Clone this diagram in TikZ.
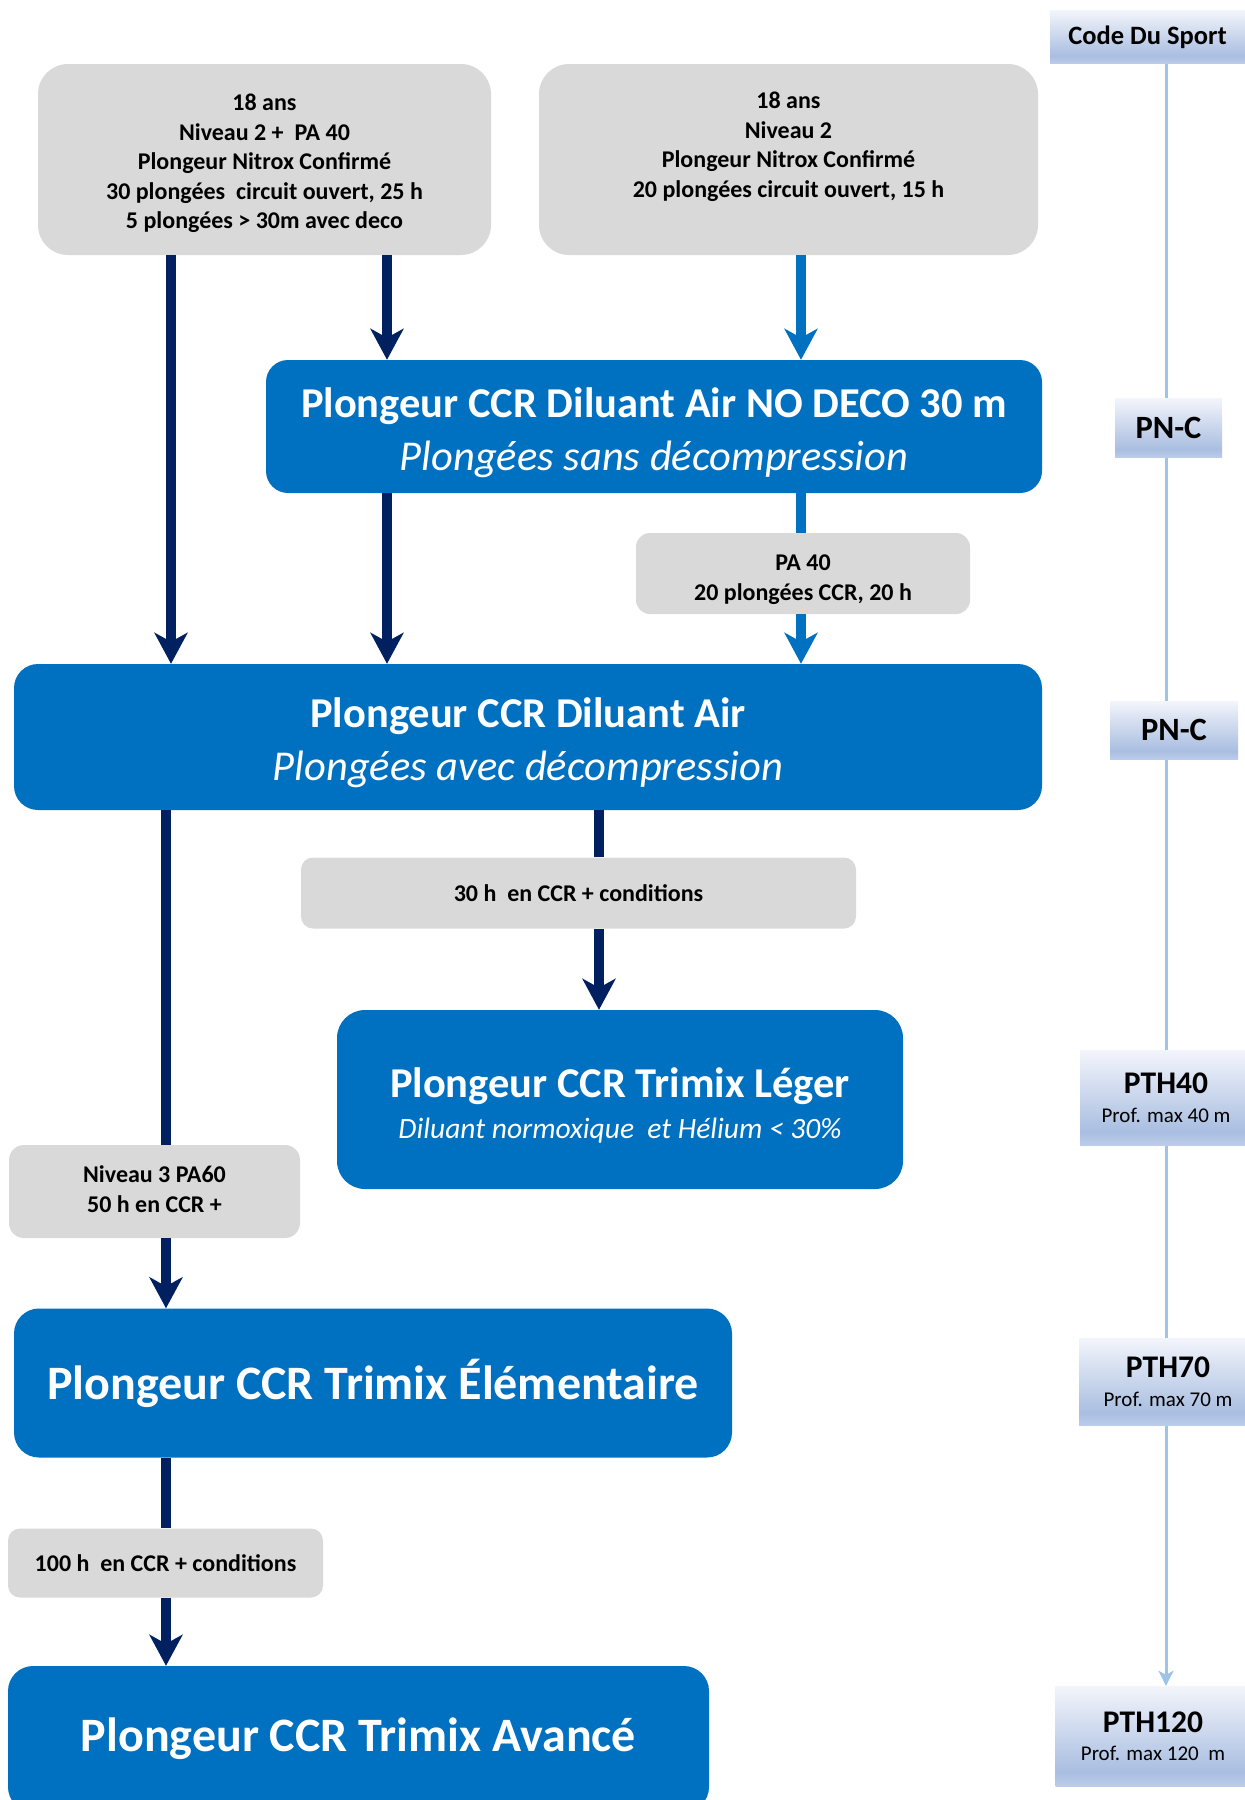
\documentclass[tikz,border=0pt]{standalone}
\usepackage{fontspec}
\setmainfont{Carlito}
\usetikzlibrary{arrows.meta}

\definecolor{ccrblue}{HTML}{0070C0}
\definecolor{navy}{HTML}{002060}
\definecolor{condgrey}{HTML}{D9D9D9}
\definecolor{spineblue}{HTML}{9DC3E6}
\definecolor{tabtop}{HTML}{F3F5FB}
\definecolor{tabmid}{HTML}{A9BEE1}
\definecolor{tabbot}{HTML}{BCCCEA}
\pgfdeclareverticalshading{tabshade}{100bp}{color(0bp)=(tabbot); color(25bp)=(tabbot); color(32bp)=(tabmid); color(75bp)=(tabtop); color(100bp)=(tabtop)}

\newcommand{\fs}[2]{\fontsize{#1}{#2}\selectfont}

\begin{document}
\begin{tikzpicture}[x=1pt,y=-1pt,
    cond/.style={fill=condgrey, rounded corners=#1, align=center, inner sep=0pt, font=\fs{24}{29.5}\bfseries},
    cond/.default=12pt,
    level/.style={fill=ccrblue, text=white, rounded corners=#1, align=center, inner sep=0pt},
    level/.default=24pt,
    lowtext/.style={inner sep=0pt, align=center, yshift=-#1},
    lowtext/.default=6pt,
    tab/.style={shading=tabshade, align=center, inner sep=0pt, font=\fs{31.5}{28.5}},
    navyline/.style={draw=navy, line width=10pt},
    navyarrow/.style={navyline, -{Stealth[length=31pt,width=33pt,inset=9pt]}},
    blueline/.style={draw=ccrblue, line width=10pt},
    bluearrow/.style={blueline, -{Stealth[length=31pt,width=33pt,inset=9pt]}},
    spine/.style={draw=spineblue, line width=3pt, -{Stealth[length=15pt,width=15pt,inset=4pt]}}]
\useasboundingbox (0,0) rectangle (1245,1800);

% columns of the connectors
\coordinate (colL) at (166,0);
\coordinate (colA) at (171,0);
\coordinate (colB) at (387,0);
\coordinate (colD) at (599,0);
\coordinate (colC) at (801,0);
\coordinate (colR) at (1166,0);

% code du sport scale
\node[tab, minimum width=195pt, minimum height=53pt, font=\fs{26.5}{30}\bfseries] (code) at (1147.5,37) {Code Du Sport};
\node[tab, minimum width=195pt, minimum height=100pt] (pth120) at (1153,1736)
  {\textbf{PTH120}\\{\fs{21}{25}Prof. max 120~ m}};
\draw[spine] (code.south -| colR) -- (pth120.north -| colR);
\node[tab, minimum width=107pt, minimum height=59pt, font=\fs{32.5}{36}\bfseries] (pnca) at (1168.5,428) {PN-C};
\node[tab, minimum width=128pt, minimum height=58pt, font=\fs{32.5}{36}\bfseries] (pncb) at (1174,730) {PN-C};
\node[tab, minimum width=172pt, minimum height=95pt] (pth40) at (1166,1097.5)
  {\textbf{PTH40}\\{\fs{21}{25}Prof. max 40 m}};
\node[tab, minimum width=178pt, minimum height=87pt] (pth70) at (1168,1381.5)
  {\textbf{PTH70}\\{\fs{21}{25}Prof. max 70 m}};

% prerequisites
\node[cond=30pt, minimum width=453pt, minimum height=191pt,
  label={[lowtext=4pt, font=\fs{24}{29.5}\bfseries]center:18 ans\\Niveau 2 + ~PA 40\\Plongeur Nitrox Confirmé\\30 plongées~ circuit ouvert, 25 h\\5 plongées > 30m avec deco}] (prereqA) at (264.5,159.5) {};
\node[cond=30pt, minimum width=499pt, minimum height=191pt] (prereqB) at (788.5,159.5)
  {18 ans\\Niveau 2\\Plongeur Nitrox Confirmé\\20 plongées circuit ouvert, 15 h\\\mbox{}};

% levels
\node[level=22pt, minimum width=776pt, minimum height=133pt,
  label={[lowtext, text=white, font=\fs{42.5}{53}]center:\textbf{Plongeur CCR Diluant Air NO DECO 30 m}\\\textit{Plongées sans décompression}}] (nodeco) at (654,426.5) {};
\node[cond=14pt, minimum width=334pt, minimum height=81pt,
  label={[lowtext, font=\fs{24}{29.5}\bfseries]center:PA 40\\20 plongées CCR, 20 h}] (pa40) at (803,573.5) {};
\node[level=24pt, minimum width=1028pt, minimum height=146pt,
  label={[lowtext, text=white, font=\fs{42.5}{53}]center:\textbf{Plongeur CCR Diluant Air}\\\textit{Plongées avec décompression}}] (diluant) at (528,737) {};
\node[cond, minimum width=555pt, minimum height=71pt] (cond30) at (578.5,893) {30 h~ en CCR + conditions};
\node[level=28pt, minimum width=566pt, minimum height=179pt,
  label={[lowtext, text=white, font=\fs{42.5}{40.5}]center:\textbf{Plongeur CCR Trimix Léger}\\{\fs{29.5}{30}\itshape Diluant normoxique~ et Hélium < 30\%}}] (leger) at (620,1099.5) {};
\node[cond=15pt, minimum width=291pt, minimum height=93pt,
  label={[lowtext=-2.5pt, font=\fs{24}{29.5}\bfseries]center:Niveau 3 PA60\\50 h en CCR +}] (niveau3) at (154.5,1191.5) {};
\node[level=25pt, minimum width=718pt, minimum height=149pt, font=\fs{48}{50}\bfseries] (elem) at (373,1383)
  {Plongeur CCR Trimix Élémentaire};
\node[cond, minimum width=315pt, minimum height=69pt] (cond100) at (165.5,1563) {100 h~ en CCR + conditions};
\node[level=25pt, minimum width=701pt, minimum height=146pt, font=\fs{48}{50}\bfseries] (avance) at (358.5,1739)
  {Plongeur CCR Trimix Avancé};

% connectors
\draw[navyarrow] (prereqA.south -| colA) -- (diluant.north -| colA);
\draw[navyarrow] (prereqA.south -| colB) -- (nodeco.north -| colB);
\draw[navyarrow] (nodeco.south -| colB) -- (diluant.north -| colB);
\draw[bluearrow] (prereqB.south -| colC) -- (nodeco.north -| colC);
\draw[blueline] (nodeco.south -| colC) -- (pa40.north -| colC);
\draw[bluearrow] (pa40.south -| colC) -- (diluant.north -| colC);
\draw[navyline] (diluant.south -| colD) -- (cond30.north -| colD);
\draw[navyarrow] (cond30.south -| colD) -- (leger.north -| colD);
\draw[navyline] (diluant.south -| colL) -- (niveau3.north -| colL);
\draw[navyarrow] (niveau3.south -| colL) -- (elem.north -| colL);
\draw[navyline] (elem.south -| colL) -- (cond100.north -| colL);
\draw[navyarrow] (cond100.south -| colL) -- (avance.north -| colL);
\end{tikzpicture}
\end{document}
